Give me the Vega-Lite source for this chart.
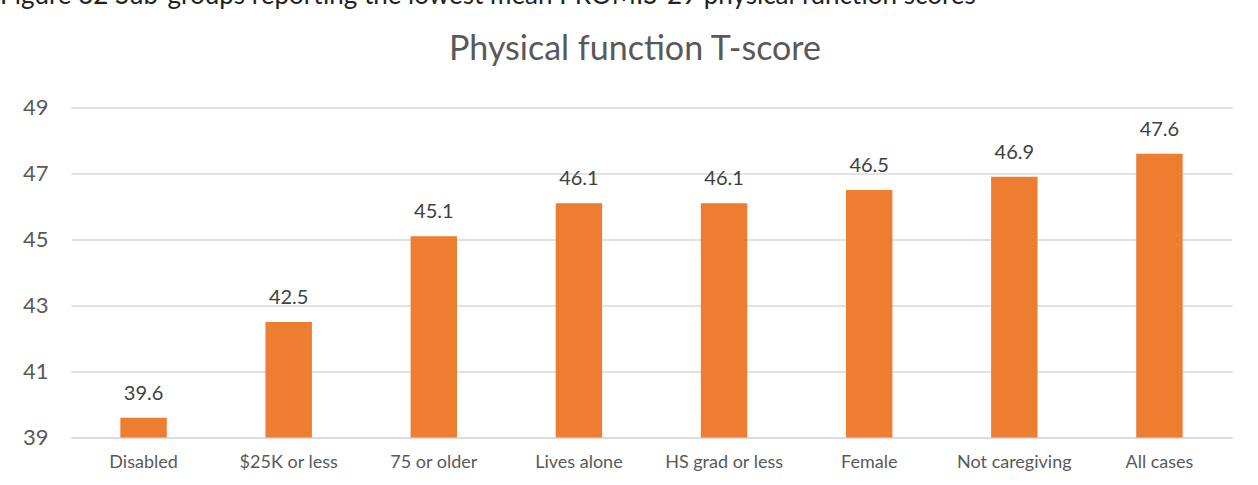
{
  "$schema": "https://vega.github.io/schema/vega-lite/v6.json",
  "autosize": {"type": "none"},
  "padding": {"left": 71, "top": 107.5, "right": 26, "bottom": 47.5},
  "background": "white",
  "width": 1161,
  "height": 330,
  "title": {
    "text": "Figure 32 Sub-groups reporting the lowest mean PROMIS-29 physical function scores",
    "anchor": "start",
    "frame": "group",
    "dx": -71,
    "dy": 15,
    "offset": 18,
    "baseline": "alphabetic",
    "font": "Lato",
    "fontSize": 26,
    "fontWeight": "normal",
    "color": "#222222"
  },
  "data": {
    "values": [
      {"group": "Disabled", "score": 39.6},
      {"group": "$25K or less", "score": 42.5},
      {"group": "75 or older", "score": 45.1},
      {"group": "Lives alone", "score": 46.1},
      {"group": "HS grad or less", "score": 46.1},
      {"group": "Female", "score": 46.5},
      {"group": "Not caregiving", "score": 46.9},
      {"group": "All cases", "score": 47.6}
    ]
  },
  "encoding": {
    "y": {
      "field": "score",
      "type": "quantitative",
      "scale": {"domain": [39, 49], "zero": false, "nice": false},
      "axis": {
        "title": null,
        "values": [39, 41, 43, 45, 47, 49],
        "ticks": false,
        "domain": false,
        "grid": true,
        "gridColor": "#D9D9D9",
        "gridWidth": 1.5,
        "labelPadding": 23,
        "labelFont": "Lato",
        "labelFontSize": 22,
        "labelColor": "#595959"
      }
    }
  },
  "layer": [
    {
      "mark": {"type": "bar", "color": "#ED7D31"},
      "encoding": {
        "x": {
          "field": "group",
          "type": "nominal",
          "sort": null,
          "scale": {"paddingInner": 0.68, "paddingOuter": 0.34},
          "axis": {
            "orient": "bottom",
            "title": null,
            "labelAngle": 0,
            "ticks": false,
            "domain": true,
            "domainColor": "#D9D9D9",
            "domainWidth": 1.5,
            "labelPadding": 16,
            "labelFont": "Lato",
            "labelFontSize": 18,
            "labelColor": "#595959"
          }
        },
        "y2": {"datum": 39}
      }
    },
    {
      "mark": {
        "type": "text",
        "baseline": "alphabetic",
        "dy": -18,
        "font": "Lato",
        "fontSize": 20,
        "color": "#404040"
      },
      "encoding": {
        "x": {
          "field": "group",
          "type": "nominal",
          "sort": null,
          "axis": {
            "orient": "top",
            "labels": false,
            "ticks": false,
            "domain": false,
            "grid": false,
            "title": "Physical function T-score",
            "titleAnchor": "middle",
            "titleAlign": "center",
            "titleX": 563.5,
            "titleY": -48,
            "titleBaseline": "alphabetic",
            "titleFont": "Lato",
            "titleFontSize": 34,
            "titleFontWeight": "normal",
            "titleColor": "#595959"
          }
        },
        "text": {"field": "score", "type": "quantitative", "format": ".1f"}
      }
    }
  ],
  "resolve": {"axis": {"x": "independent"}},
  "config": {"view": {"stroke": null}}
}
